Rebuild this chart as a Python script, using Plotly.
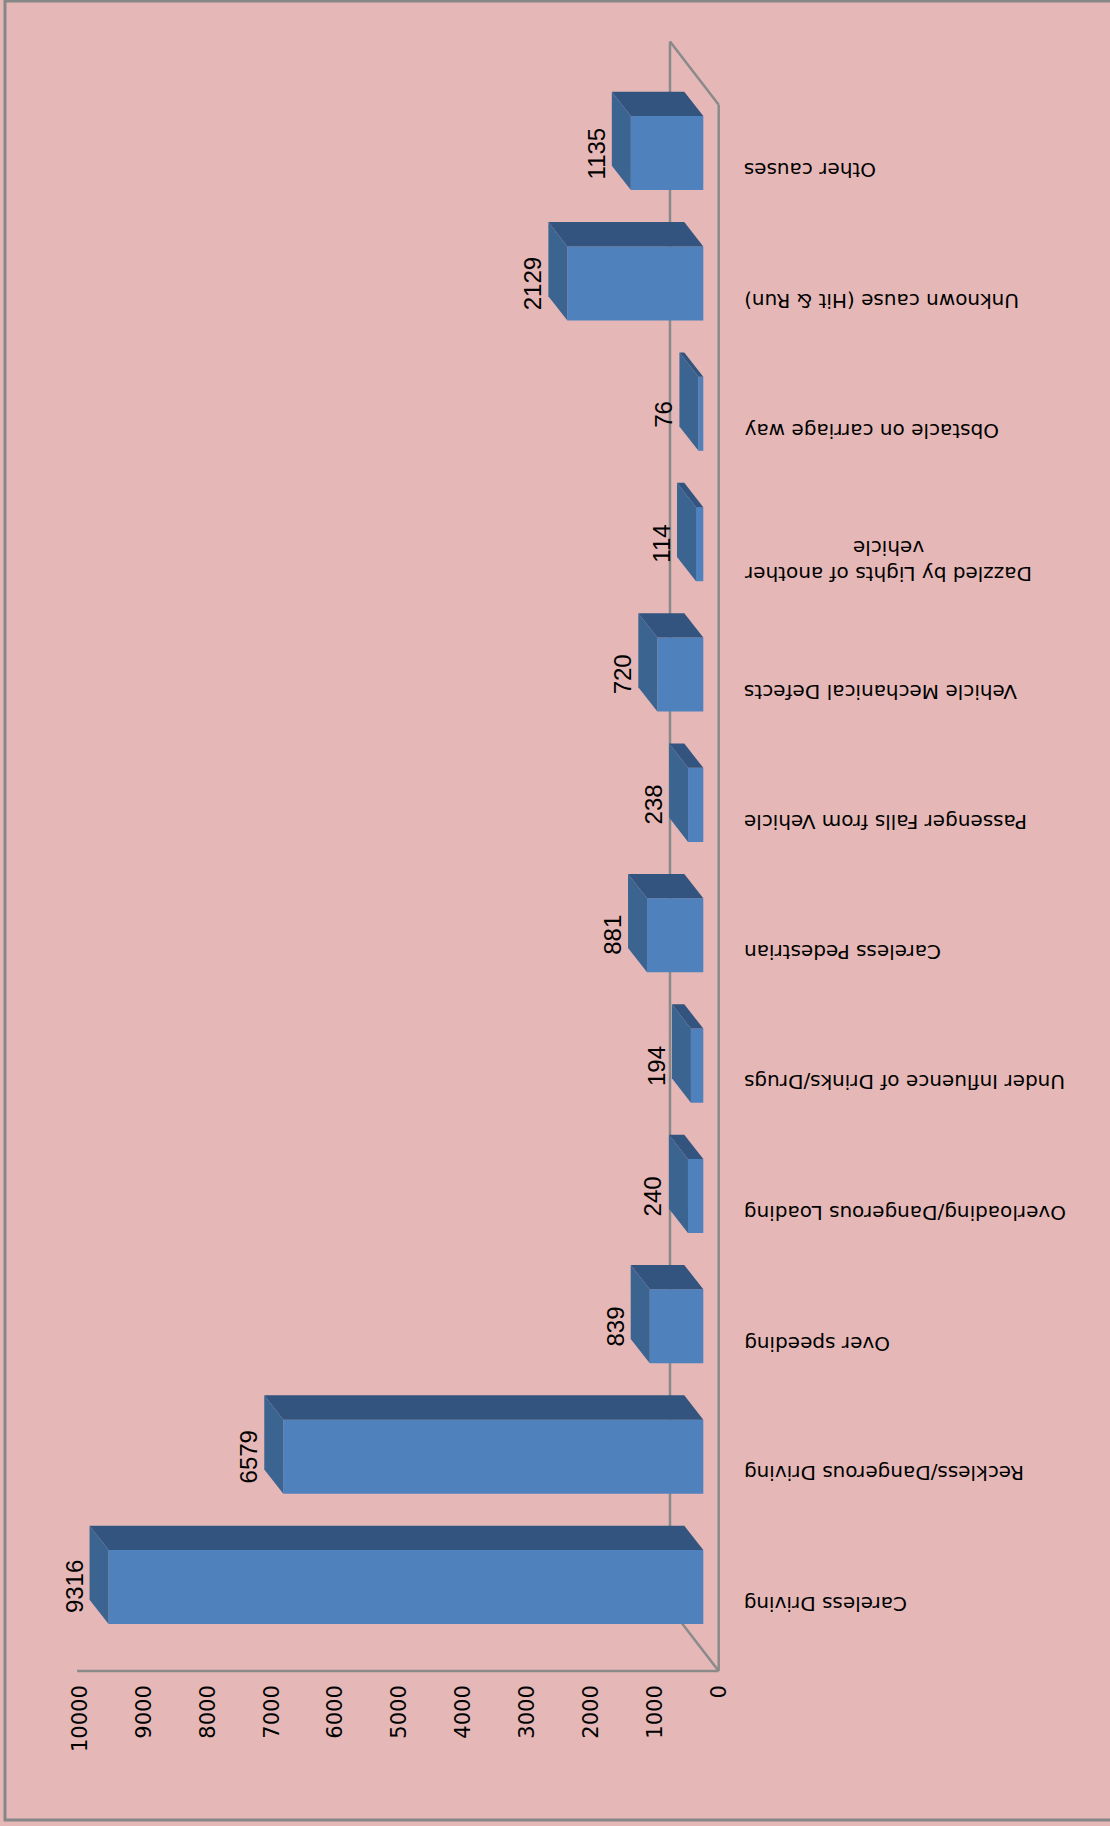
import plotly.graph_objects as go

# ---------------- data ----------------
categories = [
    "Careless Driving",
    "Reckless/Dangerous Driving",
    "Over speeding",
    "Overloading/Dangerous Loading",
    "Under Influence of Drinks/Drugs",
    "Careless Pedestrian",
    "Passenger Falls from Vehicle",
    "Vehicle Mechanical Defects",
    "Dazzled by Lights of another<br>vehicle",
    "Obstacle on carriage way",
    "Unknown cause (Hit & Run)",
    "Other causes",
]
values = [9316, 6579, 839, 240, 194, 881, 238, 720, 114, 76, 2129, 1135]
tick_values = [0, 1000, 2000, 3000, 4000, 5000, 6000, 7000, 8000, 9000, 10000]

# ---------------- geometry / style ----------------
W, H = 1110, 1826
PLOT_L, PLOT_R, PLOT_T, PLOT_B = 60, 740, 30, 1671
PX_PER_UNIT = 0.06384          # pixels per value unit
TICK_ZERO_PX = 718.7           # where value 0 sits on the axis (front of floor)
BAR_ZERO_PX = 703.3            # where the bars' front faces start
LABEL0_PX = 1604.0             # centre of first category
CAT_STEP_PX = 130.36           # pixels per category

BAR_HALF = 0.284               # half bar thickness (category units)
BAR_DY = 0.13                  # bar front-face shift (category units)
DEPTH_X = 298                  # bar depth, value units
DEPTH_Y = 0.1865               # bar depth, category units
FLOOR_DX = 763                 # floor depth, value units
FLOOR_DY = 0.4858              # floor depth, category units

BG = "#E5B8B7"
FRONT = "#4F81BD"
TOP = "#32547E"
SIDE = "#3C6491"
LINE = "#8A8A8A"

x_range = [(TICK_ZERO_PX - PLOT_L) / PX_PER_UNIT, (TICK_ZERO_PX - PLOT_R) / PX_PER_UNIT]
x2_range = [(BAR_ZERO_PX - PLOT_L) / PX_PER_UNIT, (BAR_ZERO_PX - PLOT_R) / PX_PER_UNIT]
y_range = [(LABEL0_PX - PLOT_B) / CAT_STEP_PX, (LABEL0_PX - PLOT_T) / CAT_STEP_PX]


def px_to_paper_x(px):
    return (px - PLOT_L) / (PLOT_R - PLOT_L)


def px_to_paper_y(py):
    return (PLOT_B - py) / (PLOT_B - PLOT_T)


fig = go.Figure()

# ---------------- 3D bars ----------------
for i, v in enumerate(values):
    yc = i + BAR_DY
    y0, y1 = yc - BAR_HALF, yc + BAR_HALF
    faces = [
        ([0, v, v, 0, 0], [y0, y0, y1, y1, y0], FRONT),
        ([0, v, v + DEPTH_X, DEPTH_X, 0], [y1, y1, y1 + DEPTH_Y, y1 + DEPTH_Y, y1], TOP),
        ([v, v + DEPTH_X, v + DEPTH_X, v, v], [y0, y0 + DEPTH_Y, y1 + DEPTH_Y, y1, y0], SIDE),
    ]
    for xs, ys, col in faces:
        fig.add_trace(go.Scatter(
            x=xs, y=ys, xaxis="x2", yaxis="y",
            mode="lines", fill="toself", fillcolor=col,
            line=dict(width=0, color=col),
            hoverinfo="skip", showlegend=False,
        ))

# ---------------- annotations ----------------
annotations = []
for i, (cat, v) in enumerate(zip(categories, values)):
    annotations.append(dict(
        xref="x2", yref="y", x=v + DEPTH_X, y=i + BAR_DY,
        text=str(v), showarrow=False, textangle=-90,
        xanchor="right", yanchor="middle",
        font=dict(family="Liberation Sans", size=24, color="#000000"),
    ))
    annotations.append(dict(
        xref="paper", yref="y", x=px_to_paper_x(742), y=i,
        text=cat, showarrow=False, textangle=180, align="center",
        xanchor="left", yanchor="middle",
        font=dict(family="DejaVu Sans", size=20, color="#000000"),
    ))

# ---------------- shapes (floor, axis line, frame) ----------------
n = len(categories)
shapes = [
    # floor front edge
    dict(type="line", xref="x", yref="y", x0=0, x1=0, y0=y_range[0], y1=n - 0.5,
         line=dict(color=LINE, width=2.5), layer="below"),
    # floor back edge
    dict(type="line", xref="x", yref="y", x0=FLOOR_DX, x1=FLOOR_DX,
         y0=y_range[0] + FLOOR_DY, y1=n - 0.5 + FLOOR_DY,
         line=dict(color=LINE, width=2.5), layer="below"),
    # floor top diagonal
    dict(type="line", xref="x", yref="y", x0=0, x1=FLOOR_DX,
         y0=n - 0.5, y1=n - 0.5 + FLOOR_DY,
         line=dict(color=LINE, width=2.5), layer="below"),
    # floor bottom diagonal
    dict(type="line", xref="x", yref="y", x0=0, x1=FLOOR_DX,
         y0=y_range[0], y1=y_range[0] + FLOOR_DY,
         line=dict(color=LINE, width=2.5), layer="below"),
    # value axis line
    dict(type="line", xref="x", yref="paper", x0=10050, x1=0, y0=0, y1=0,
         line=dict(color=LINE, width=2.5), layer="below"),
    # outer frame
    dict(type="rect", xref="paper", yref="paper",
         x0=px_to_paper_x(5), x1=px_to_paper_x(1125),
         y0=px_to_paper_y(1820), y1=px_to_paper_y(1),
         line=dict(color="#878787", width=3), layer="below"),
]

fig.update_layout(
    width=W, height=H,
    margin=dict(l=PLOT_L, r=W - PLOT_R, t=PLOT_T, b=H - PLOT_B, pad=0),
    paper_bgcolor=BG, plot_bgcolor=BG,
    showlegend=False,
    xaxis=dict(
        range=x_range, autorange=False,
        tickmode="array", tickvals=tick_values,
        ticktext=[str(t) for t in tick_values],
        tickangle=-90, ticks="", ticklabelstandoff=9,
        tickfont=dict(family="DejaVu Sans", size=21, color="#000000"),
        showgrid=False, zeroline=False, showline=False,
    ),
    xaxis2=dict(range=x2_range, autorange=False, overlaying="x", visible=False),
    yaxis=dict(range=y_range, autorange=False, visible=False),
    annotations=annotations,
    shapes=shapes,
)

fig.write_html(
    "out.html",
    config={"displayModeBar": False},
    post_script="document.body.style.margin='0';document.body.style.overflow='hidden';",
)
